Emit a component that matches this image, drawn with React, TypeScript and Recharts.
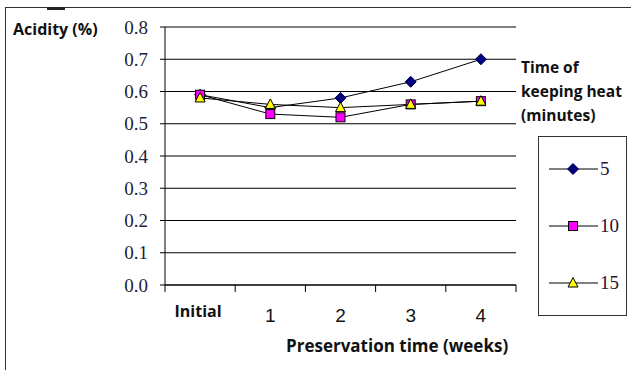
import React from "react";
import { LineChart, Line, XAxis, YAxis, CartesianGrid } from "recharts";

const categories = ["Initial", "1", "2", "3", "4"];
const heat5 = [0.59, 0.55, 0.58, 0.63, 0.7];
const heat10 = [0.59, 0.53, 0.52, 0.56, 0.57];
const heat15 = [0.58, 0.56, 0.55, 0.56, 0.57];
const yTicks = [0, 0.1, 0.2, 0.3, 0.4, 0.5, 0.6, 0.7, 0.8];
const seriesNames = ["5", "10", "15"];

const data = categories.map((c, i) => ({
  week: c,
  h5: heat5[i],
  h10: heat10[i],
  h15: heat15[i],
}));

const HALF_BAND = 35.1;

// marker shapes, Excel-like
const drawMarker = (kind: string, cx: number, cy: number) => {
  if (kind === "diamond") {
    return (
      <polygon
        points={`${cx},${cy - 5.5} ${cx + 5.5},${cy} ${cx},${cy + 5.5} ${cx - 5.5},${cy}`}
        fill="#000080"
        stroke="#000040"
        strokeWidth={1}
      />
    );
  }
  if (kind === "square") {
    return (
      <rect x={cx - 4.5} y={cy - 4.5} width={9} height={9} fill="#ff00ff" stroke="#000" strokeWidth={1} />
    );
  }
  return (
    <polygon
      points={`${cx},${cy - 5.5} ${cx + 5},${cy + 4} ${cx - 5},${cy + 4}`}
      fill="#ffff00"
      stroke="#000"
      strokeWidth={1}
    />
  );
};

const series = [
  { key: "h5", name: seriesNames[0], marker: "diamond" },
  { key: "h10", name: seriesNames[1], marker: "square" },
  { key: "h15", name: seriesNames[2], marker: "triangle" },
];

const makeDot = (kind: string) => (props: any) => {
  const { cx, cy, index } = props;
  if (cx == null || cy == null) return <g key={index} />;
  return <g key={index}>{drawMarker(kind, cx, cy)}</g>;
};

const XTick = (props: any) => {
  const { x, y, payload, index } = props;
  const first = index === 0;
  const last = index === categories.length - 1;
  return (
    <g>
      <line x1={x - HALF_BAND} x2={x - HALF_BAND} y1={y} y2={y + 7} stroke="#000" />
      {last && <line x1={x + HALF_BAND} x2={x + HALF_BAND} y1={y} y2={y + 7} stroke="#000" />}
      {first ? (
        <text x={x - 2} y={y + 32} textAnchor="middle" fontFamily="'Open Sans', sans-serif" fontWeight={700} fontSize={16} fill="#111">
          {payload.value}
        </text>
      ) : (
        <text x={x} y={y + 37} textAnchor="middle" fontFamily="'Liberation Sans', Arial, sans-serif" fontSize={19} fill="#111">
          {payload.value}
        </text>
      )}
    </g>
  );
};

const LegendBox = () => (
  <div
    style={{
      position: "absolute",
      left: 538,
      top: 136,
      width: 89,
      height: 180,
      border: "1.5px solid #333",
      boxSizing: "border-box",
    }}
  >
    {series.map((s, i) => (
      <div key={s.key} style={{ position: "absolute", left: 0, top: 22 + i * 57, height: 20, width: 89 }}>
        <svg width={60} height={20} style={{ position: "absolute", left: 0, top: 0 }}>
          <line x1={10} x2={59} y1={10} y2={10} stroke="#000" strokeWidth={1} />
          {drawMarker(s.marker, 34, 10)}
        </svg>
        <span
          style={{
            position: "absolute",
            left: 61,
            top: -2,
            fontFamily: "'Liberation Serif', serif",
            fontSize: 19,
            color: "#2a1030",
            lineHeight: "24px",
          }}
        >
          {s.name}
        </span>
      </div>
    ))}
  </div>
);

const sans = "'Open Sans', sans-serif";

export default function App() {
  return (
    <div style={{ position: "absolute", left: 0, top: 0, width: 631, height: 370, background: "#fff", overflow: "hidden" }}>
      {/* frame */}
      <div
        style={{
          position: "absolute",
          left: 5,
          top: 7,
          width: 640,
          height: 380,
          borderLeft: "1.5px solid #333",
          borderTop: "1.5px solid #333",
        }}
      />
      <div style={{ position: "absolute", left: 47, top: 7, width: 18, height: 3, background: "#222" }} />
      <LineChart width={631} height={370} data={data} margin={{ top: 27, right: 115, bottom: 55, left: 0 }}>
        <CartesianGrid horizontal vertical={false} stroke="#000" strokeWidth={1} />
        <XAxis
          dataKey="week"
          height={30}
          padding={{ left: HALF_BAND, right: HALF_BAND }}
          axisLine={{ stroke: "#000" }}
          tickLine={false}
          tickSize={0}
          tickMargin={0}
          tick={<XTick />}
          interval={0}
        />
        <YAxis
          width={165}
          domain={[0, 0.8]}
          ticks={yTicks}
          interval={0}
          tickFormatter={(v: number) => v.toFixed(1)}
          axisLine={{ stroke: "#000" }}
          tickLine={{ stroke: "#000" }}
          tickSize={5}
          tickMargin={12}
          tick={{ fontFamily: "'Liberation Serif', serif", fontSize: 19, fill: "#1c1c3c" }}
        />
        {series.map((s) => (
          <Line
            key={s.key}
            dataKey={s.key}
            name={s.name}
            type="linear"
            stroke="#000"
            strokeWidth={1}
            dot={makeDot(s.marker)}
            activeDot={false}
            isAnimationActive={false}
          />
        ))}
      </LineChart>
      <LegendBox />
      <div style={{ position: "absolute", left: 13, top: 18, fontFamily: sans, fontWeight: 700, fontSize: 16, color: "#111" }}>
        Acidity (%)
      </div>
      <div
        style={{
          position: "absolute",
          left: 521,
          top: 55,
          fontFamily: sans,
          fontWeight: 700,
          fontSize: 15.5,
          lineHeight: "24px",
          color: "#111",
        }}
      >
        Time of
        <br />
        keeping heat
        <br />
        (minutes)
      </div>
      <div style={{ position: "absolute", left: 286, top: 334, fontFamily: sans, fontWeight: 700, fontSize: 17, color: "#111" }}>
        Preservation time (weeks)
      </div>
    </div>
  );
}
